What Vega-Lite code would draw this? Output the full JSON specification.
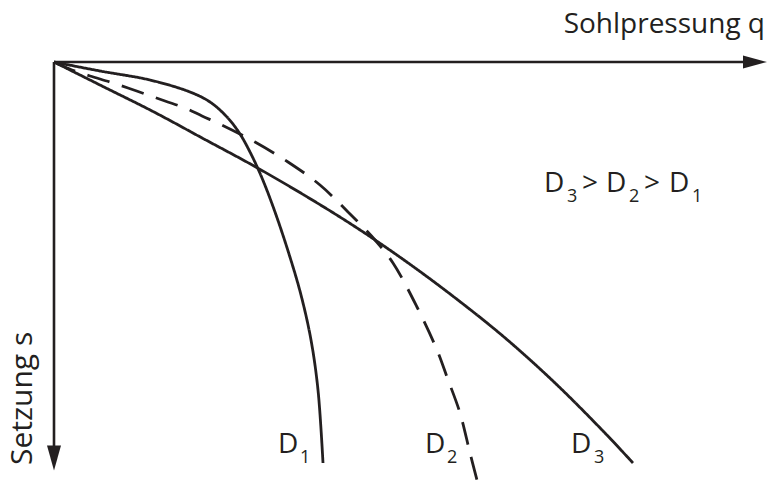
{
  "$schema": "https://vega.github.io/schema/vega-lite/v6.json",
  "width": 713,
  "height": 418,
  "autosize": {"type": "none"},
  "padding": {"left": 54, "top": 62, "right": 0, "bottom": 0},
  "background": "white",
  "config": {
    "view": {"stroke": null},
    "text": {"font": "Open Sans", "color": "#231f20"}
  },
  "datasets": {
    "kurven": [
      {"kurve": "D1", "q": 0, "s": 0},
      {"kurve": "D1", "q": 46, "s": 9},
      {"kurve": "D1", "q": 96, "s": 18},
      {"kurve": "D1", "q": 136, "s": 30},
      {"kurve": "D1", "q": 156, "s": 40},
      {"kurve": "D1", "q": 173, "s": 55},
      {"kurve": "D1", "q": 186, "s": 72},
      {"kurve": "D1", "q": 197, "s": 92},
      {"kurve": "D1", "q": 208, "s": 116},
      {"kurve": "D1", "q": 221, "s": 150},
      {"kurve": "D1", "q": 235, "s": 192},
      {"kurve": "D1", "q": 247, "s": 233},
      {"kurve": "D1", "q": 257, "s": 278},
      {"kurve": "D1", "q": 264, "s": 328},
      {"kurve": "D1", "q": 269, "s": 401},
      {"kurve": "D2", "q": 0, "s": 0},
      {"kurve": "D2", "q": 18, "s": 8},
      {"kurve": "D2", "q": 36, "s": 14},
      {"kurve": "D2", "q": 56, "s": 20},
      {"kurve": "D2", "q": 74, "s": 26},
      {"kurve": "D2", "q": 94, "s": 33},
      {"kurve": "D2", "q": 111, "s": 39},
      {"kurve": "D2", "q": 131, "s": 46},
      {"kurve": "D2", "q": 148, "s": 54},
      {"kurve": "D2", "q": 168, "s": 63},
      {"kurve": "D2", "q": 201, "s": 80},
      {"kurve": "D2", "q": 234, "s": 100},
      {"kurve": "D2", "q": 266, "s": 123},
      {"kurve": "D2", "q": 294, "s": 150},
      {"kurve": "D2", "q": 321, "s": 178},
      {"kurve": "D2", "q": 339, "s": 201},
      {"kurve": "D2", "q": 363, "s": 245},
      {"kurve": "D2", "q": 383, "s": 288},
      {"kurve": "D2", "q": 393, "s": 315},
      {"kurve": "D2", "q": 406, "s": 351},
      {"kurve": "D2", "q": 416, "s": 391},
      {"kurve": "D2", "q": 423, "s": 418},
      {"kurve": "D3", "q": 0, "s": 0},
      {"kurve": "D3", "q": 50, "s": 25},
      {"kurve": "D3", "q": 100, "s": 50},
      {"kurve": "D3", "q": 150, "s": 77},
      {"kurve": "D3", "q": 200, "s": 104},
      {"kurve": "D3", "q": 250, "s": 133},
      {"kurve": "D3", "q": 300, "s": 164},
      {"kurve": "D3", "q": 350, "s": 198},
      {"kurve": "D3", "q": 400, "s": 235},
      {"kurve": "D3", "q": 450, "s": 275},
      {"kurve": "D3", "q": 500, "s": 320},
      {"kurve": "D3", "q": 550, "s": 370},
      {"kurve": "D3", "q": 579, "s": 401}
    ],
    "achsen": [
      {"achse": "q", "q": 0, "s": 0, "q2": 690, "s2": 0},
      {"achse": "s", "q": 0, "s": 0, "q2": 0, "s2": 386}
    ],
    "beschriftung": [
      {"t": "D", "q": 490, "s": 130},
      {"t": ">", "q": 528, "s": 130},
      {"t": "D", "q": 552, "s": 130},
      {"t": ">", "q": 590, "s": 130},
      {"t": "D", "q": 615, "s": 130},
      {"t": "D", "q": 224, "s": 391},
      {"t": "D", "q": 371, "s": 391},
      {"t": "D", "q": 517, "s": 391}
    ],
    "indizes": [
      {"t": "3", "q": 513, "s": 140},
      {"t": "2", "q": 575, "s": 140},
      {"t": "1", "q": 638, "s": 140},
      {"t": "1", "q": 246, "s": 401},
      {"t": "2", "q": 393, "s": 401},
      {"t": "3", "q": 540, "s": 401}
    ]
  },
  "encoding": {
    "x": {"field": "q", "type": "quantitative", "scale": {"domain": [0, 713], "nice": false, "zero": false}, "axis": null},
    "y": {"field": "s", "type": "quantitative", "scale": {"domain": [0, 418], "reverse": true, "nice": false, "zero": false}, "axis": null}
  },
  "layer": [
    {
      "data": {"name": "achsen"},
      "mark": {"type": "rule", "color": "#231f20", "strokeWidth": 2.6},
      "encoding": {
        "x2": {"field": "q2"},
        "y2": {"field": "s2"}
      }
    },
    {
      "data": {"values": [{"q": 701, "s": 0}]},
      "mark": {"type": "point", "shape": "M-1,-0.54L1,0L-1,0.54Z", "size": 576, "filled": true, "opacity": 1, "color": "#231f20", "strokeWidth": 0}
    },
    {
      "data": {"values": [{"q": 0, "s": 396}]},
      "mark": {"type": "point", "shape": "M-0.56,-1L0,1L0.56,-1Z", "size": 625, "filled": true, "opacity": 1, "color": "#231f20", "strokeWidth": 0}
    },
    {
      "data": {"name": "kurven"},
      "mark": {"type": "line", "interpolate": "catmull-rom", "color": "#231f20", "strokeWidth": 2.8},
      "encoding": {
        "detail": {"field": "kurve"},
        "strokeDash": {
          "field": "kurve",
          "type": "nominal",
          "scale": {"domain": ["D1", "D2", "D3"], "range": [[1, 0], [23, 13], [1, 0]]},
          "legend": null
        }
      }
    },
    {
      "data": {"name": "beschriftung"},
      "mark": {"type": "text", "fontSize": 28, "align": "left", "baseline": "alphabetic"},
      "encoding": {"text": {"field": "t"}}
    },
    {
      "data": {"name": "indizes"},
      "mark": {"type": "text", "fontSize": 18, "align": "left", "baseline": "alphabetic"},
      "encoding": {"text": {"field": "t"}}
    },
    {
      "data": {"values": [{"t": "Sohlpressung q", "q": 711, "s": -29}]},
      "mark": {"type": "text", "fontSize": 28, "align": "right", "baseline": "alphabetic"},
      "encoding": {"text": {"field": "t"}}
    },
    {
      "data": {"values": [{"t": "Setzung s", "q": -22, "s": 403}]},
      "mark": {"type": "text", "fontSize": 30, "angle": 270, "align": "left", "baseline": "alphabetic"},
      "encoding": {"text": {"field": "t"}}
    }
  ]
}
